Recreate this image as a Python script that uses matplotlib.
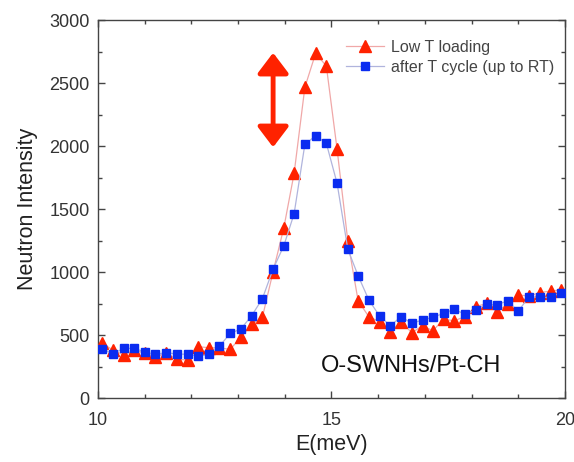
import numpy as np
import matplotlib
matplotlib.use("Agg")
import matplotlib.pyplot as plt
from matplotlib.patches import FancyArrowPatch
from matplotlib.ticker import MultipleLocator

plt.rcParams['font.family'] = ['Liberation Sans', 'DejaVu Sans']

# Energy grid (meV)
energy = [10.09, 10.32, 10.55, 10.78, 11.00, 11.23, 11.46, 11.69, 11.92, 12.15,
          12.38, 12.60, 12.83, 13.06, 13.29, 13.52, 13.75, 13.98, 14.20, 14.43,
          14.66, 14.89, 15.12, 15.35, 15.57, 15.80, 16.03, 16.26, 16.49, 16.72,
          16.95, 17.17, 17.40, 17.63, 17.86, 18.09, 18.32, 18.54, 18.77, 19.00,
          19.23, 19.46, 19.69, 19.91]

low_t = [434, 381, 341, 381, 355, 328, 355, 307, 302, 407,
         399, 398, 386, 482, 585, 640, 1003, 1352, 1783, 2466,
         2735, 2635, 1974, 1246, 772, 645, 606, 526, 606, 518,
         574, 534, 624, 614, 645, 725, 751, 685, 743, 817,
         810, 836, 849, 857]

after_cycle = [386, 352, 394, 394, 365, 347, 360, 349, 347, 331,
               347, 410, 513, 548, 653, 788, 1024, 1209, 1463, 2013,
               2082, 2021, 1704, 1180, 971, 778, 651, 574, 645, 593,
               619, 640, 672, 704, 664, 698, 746, 738, 772, 690,
               804, 799, 799, 836]

fig = plt.figure(figsize=(5.74, 4.62), dpi=100)
ax = fig.add_axes([0.1707, 0.1385, 0.8136, 0.8182])

ax.plot(energy, low_t, color='#f0a8a8', lw=0.9, marker='^', ms=8,
        mfc='#ff2200', mec='#ff2200', label='Low T loading', zorder=3)
ax.plot(energy, after_cycle, color='#b0b4dd', lw=0.9, marker='s', ms=5.5,
        mfc='#0a2cf0', mec='#0a2cf0', label='after T cycle (up to RT)', zorder=4)

ax.set_xlim(10, 20)
ax.set_ylim(0, 3000)
ax.xaxis.set_major_locator(MultipleLocator(5))
ax.xaxis.set_minor_locator(MultipleLocator(1))
ax.yaxis.set_major_locator(MultipleLocator(500))
ax.yaxis.set_minor_locator(MultipleLocator(250))
ax.tick_params(which='both', direction='in', top=True, right=True,
               colors='#444444', labelcolor='#333333', labelsize=13)
ax.tick_params(which='major', length=5, width=1)
ax.tick_params(which='minor', length=3, width=1)
ax.tick_params(axis='x', which='major', pad=10)
ax.tick_params(axis='y', which='major', pad=6)
for s in ax.spines.values():
    s.set_color('#444444')
    s.set_linewidth(1)

ax.set_xlabel('E(meV)', fontsize=15.5, color='#222222', labelpad=4)
ax.set_ylabel('Neutron Intensity', fontsize=15.5, color='#222222', labelpad=8)

leg = ax.legend(loc='upper left', bbox_to_anchor=(0.5, 0.985), frameon=False,
                fontsize=11.5, handlelength=2.4, handletextpad=0.4,
                labelspacing=0.3, labelcolor='#444444')

ax.text(0.67, 0.085, 'O-SWNHs/Pt-CH', transform=ax.transAxes, fontsize=17,
        ha='center', va='center', color='#111111')

arrow = FancyArrowPatch((13.75, 2740), (13.75, 1990),
                        arrowstyle='<|-|>,head_length=0.62,head_width=0.47',
                        mutation_scale=20, color='#ff2200', lw=3.5,
                        shrinkA=0, shrinkB=0, zorder=5)
ax.add_patch(arrow)

fig.savefig('out.png', dpi=100)
